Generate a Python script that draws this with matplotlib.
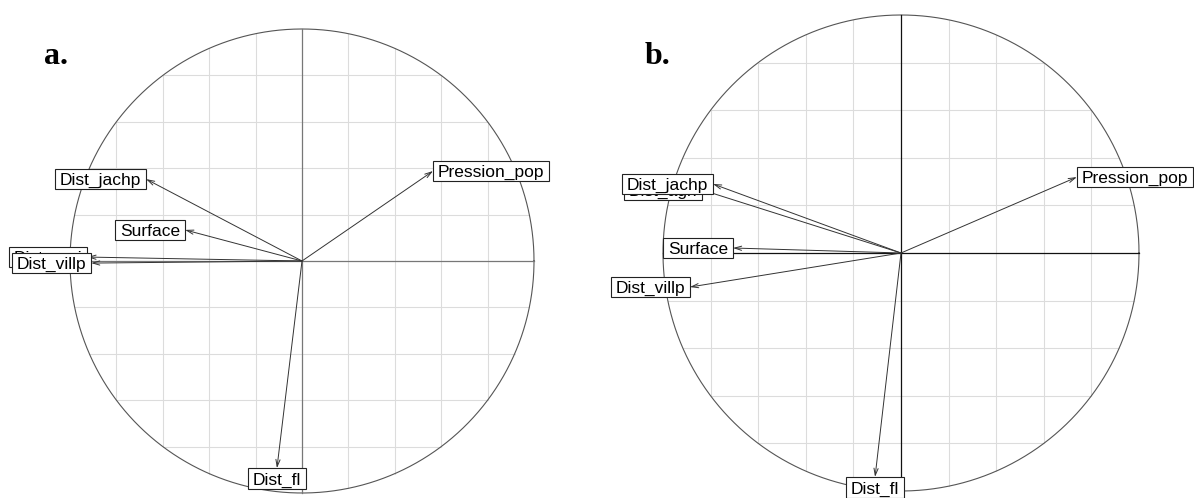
import numpy as np
import matplotlib.pyplot as plt
from matplotlib.patches import Rectangle

# Variables (same order in both panels; later labels are drawn on top)
labels = ["Surface", "Pression_pop", "Dist_agri", "Dist_jachp", "Dist_villp", "Dist_fl"]

# Panel a: correlations with axes 1 and 2
x_a = [-0.504, 0.565, -0.925, -0.672, -0.909, -0.108]
y_a = [0.134, 0.388, 0.017, 0.353, -0.009, -0.893]

# Panel b
x_b = [-0.706, 0.739, -0.836, -0.790, -0.887, -0.109]
y_b = [0.021, 0.319, 0.265, 0.290, -0.143, -0.941]

FS = 12.5
DPI = 100
fig = plt.figure(figsize=(11.94, 4.98), dpi=DPI)
renderer = fig.canvas.get_renderer()


def corcircle(ax, xs, ys, axis_color):
    ax.set_xlim(-1, 1)
    ax.set_ylim(-1, 1)
    ax.axis("off")

    # grid clipped to the circle
    for v in np.arange(-0.8, 0.81, 0.2):
        if abs(v) < 1e-9:
            continue
        h = np.sqrt(1 - v ** 2)
        ax.plot([-h, h], [v, v], color="#dcdcdc", lw=0.8, clip_on=False, zorder=1)
        ax.plot([v, v], [-h, h], color="#dcdcdc", lw=0.8, clip_on=False, zorder=1)

    t = np.linspace(0, 2 * np.pi, 400)
    ax.plot(np.cos(t), np.sin(t), color="#555555", lw=0.8, clip_on=False, zorder=2)
    ax.plot([-1, 1], [0, 0], color=axis_color, lw=0.9, clip_on=False, zorder=2)
    ax.plot([0, 0], [-1, 1], color=axis_color, lw=0.9, clip_on=False, zorder=2)

    for x, y in zip(xs, ys):
        ax.annotate("", xy=(x, y), xytext=(0, 0), annotation_clip=False,
                    arrowprops=dict(arrowstyle="->,head_length=0.5,head_width=0.15",
                                    lw=0.7, color="#333333", shrinkA=0, shrinkB=0),
                    zorder=3)

    # label boxes in the ade4 style
    px_per_unit = ax.get_position().width * fig.get_figwidth() * DPI / 2
    em = FS * DPI / 72
    sp = 0.278 * em / px_per_unit
    cap = 0.716 * em / px_per_unit
    H = 2 * cap * 5 / 6
    for i, (lab, x, y) in enumerate(zip(labels, xs, ys)):
        txt = ax.text(0, 0, lab, fontsize=FS, family="Liberation Sans",
                      ha="center", va="baseline", clip_on=False, zorder=5 + 2 * i)
        w = txt.get_window_extent(renderer=renderer).width / px_per_unit
        W = w + 2 * sp
        if abs(y) < abs(x):
            cx, cy = x + np.sign(x) * W / 2, y
        else:
            cx, cy = x, y + np.sign(y) * H / 2
        ax.add_patch(Rectangle((cx - W / 2, cy - H / 2), W, H, facecolor="white",
                               edgecolor="#222222", lw=0.8, clip_on=False, zorder=4 + 2 * i))
        txt.set_position((cx, cy - cap / 2))


fw, fh = 1194, 498
ax_a = fig.add_axes([(302 - 232) / fw, (fh - 261 - 232) / fh, 464 / fw, 464 / fh])
corcircle(ax_a, x_a, y_a, "#777777")
ax_b = fig.add_axes([(901 - 238) / fw, (fh - 253 - 238) / fh, 476 / fw, 476 / fh])
corcircle(ax_b, x_b, y_b, "#111111")

fig.text(44 / fw, 1 - 64 / fh, "a.", fontsize=23, family="Liberation Serif",
         weight="bold", va="baseline")
fig.text(645 / fw, 1 - 64 / fh, "b.", fontsize=23, family="Liberation Serif",
         weight="bold", va="baseline")

fig.savefig("out.png", dpi=DPI)
